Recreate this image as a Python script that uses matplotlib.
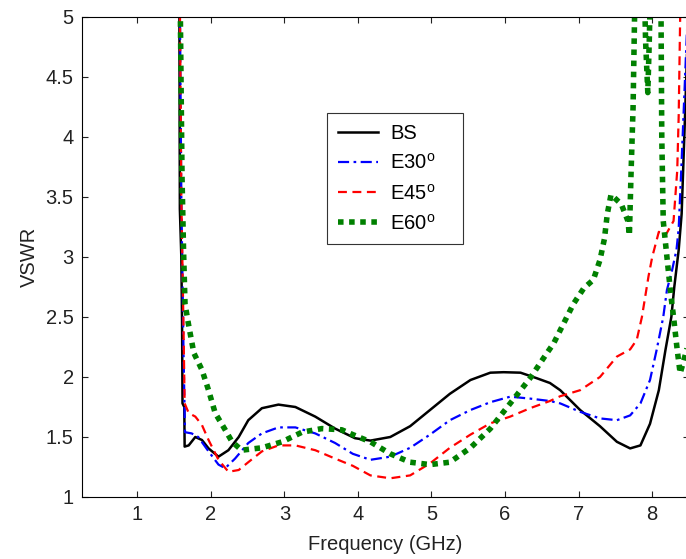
import matplotlib
matplotlib.use("Agg")
import matplotlib.pyplot as plt

plt.rcParams['font.family'] = ['Liberation Sans', 'DejaVu Sans']
plt.rcParams['mathtext.fontset'] = 'custom'
plt.rcParams['mathtext.rm'] = 'Liberation Sans'

# frequency (GHz) / VSWR
bs_f = [1.57, 1.58, 1.60, 1.61, 1.616, 1.64, 1.645, 1.70, 1.79, 1.88, 1.97, 2.105,
        2.24, 2.38, 2.51, 2.695, 2.92, 3.15, 3.42, 3.69, 3.96, 4.17, 4.44, 4.71,
        4.98, 5.25, 5.53, 5.80, 5.98, 6.21, 6.43, 6.61, 6.75, 7.02, 7.29, 7.52,
        7.70, 7.84, 7.97, 8.09, 8.18, 8.26, 8.30, 8.36, 8.40, 8.45, 8.50]
bs_v = [6.0, 3.4, 3.0, 2.45, 1.78, 1.75, 1.42, 1.43, 1.50, 1.475, 1.405, 1.336,
        1.39, 1.50, 1.64, 1.74, 1.77, 1.75, 1.67, 1.57, 1.49, 1.47, 1.50, 1.59,
        1.725, 1.86, 1.975, 2.036, 2.04, 2.036, 1.99, 1.95, 1.89, 1.725, 1.59, 1.46,
        1.405, 1.43, 1.61, 1.89, 2.225, 2.50, 2.75, 3.06, 3.36, 4.25, 5.2]

e30_f = [1.57, 1.60, 1.63, 1.65, 1.74, 1.83, 1.97, 2.105, 2.196, 2.33, 2.51, 2.695,
         2.92, 3.15, 3.42, 3.69, 3.93, 4.17, 4.44, 4.71, 4.98, 5.25, 5.53, 5.80,
         6.07, 6.34, 6.61, 6.75, 7.02, 7.29, 7.52, 7.70, 7.84, 7.97, 8.06, 8.15,
         8.20, 8.27, 8.33, 8.36, 8.40, 8.45, 8.50]
e30_v = [6.0, 3.5, 2.2, 1.54, 1.53, 1.50, 1.38, 1.27, 1.24, 1.32, 1.45, 1.53,
         1.58, 1.58, 1.53, 1.45, 1.36, 1.31, 1.336, 1.41, 1.52, 1.64, 1.725, 1.79,
         1.836, 1.82, 1.80, 1.78, 1.71, 1.655, 1.64, 1.68, 1.78, 1.975, 2.225, 2.50,
         2.725, 2.89, 3.06, 3.24, 3.80, 4.55, 5.3]

e45_f = [1.57, 1.60, 1.63, 1.645, 1.70, 1.79, 1.88, 1.97, 2.105, 2.24, 2.38, 2.51,
         2.695, 2.92, 3.15, 3.42, 3.69, 3.93, 4.17, 4.44, 4.71, 4.98, 5.25, 5.53,
         5.80, 6.07, 6.34, 6.61, 6.75, 7.02, 7.29, 7.52, 7.70, 7.79, 7.86, 7.905,
         7.95, 8.0, 8.09, 8.18, 8.29, 8.34, 8.36, 8.38, 8.40]
e45_v = [6.0, 3.5, 2.4, 1.78, 1.70, 1.67, 1.60, 1.475, 1.31, 1.21, 1.225, 1.29,
         1.38, 1.43, 1.43, 1.39, 1.32, 1.26, 1.18, 1.156, 1.18, 1.28, 1.41, 1.52,
         1.614, 1.67, 1.74, 1.80, 1.84, 1.89, 2.0, 2.17, 2.23, 2.31, 2.50, 2.67,
         2.84, 3.0, 3.21, 3.18, 3.30, 3.72, 4.18, 5.0, 5.5]

e60_f = [1.57, 1.61, 1.63, 1.65, 1.70, 1.77, 1.88, 1.97, 2.06, 2.196, 2.29, 2.42,
         2.695, 2.97, 3.24, 3.51, 3.78, 3.93, 4.17, 4.44, 4.71, 4.98, 5.25, 5.53,
         5.80, 6.07, 6.34, 6.57, 6.66, 6.84, 6.93, 7.07, 7.20, 7.29, 7.35, 7.39,
         7.44, 7.58, 7.67, 7.69, 7.71, 7.74, 7.76, 7.80, 7.88, 7.91, 7.94, 7.96,
         7.99, 8.08, 8.12, 8.13, 8.15, 8.20, 8.25, 8.29, 8.34, 8.38, 8.43, 8.50]
e60_v = [6.0, 3.65, 3.06, 2.61, 2.43, 2.20, 2.06, 1.89, 1.70, 1.56, 1.46, 1.39,
         1.41, 1.46, 1.54, 1.57, 1.56, 1.52, 1.46, 1.36, 1.29, 1.27, 1.29, 1.41,
         1.57, 1.78, 1.99, 2.20, 2.28, 2.50, 2.61, 2.74, 2.81, 2.975, 3.15, 3.36,
         3.52, 3.44, 3.30, 3.18, 3.65, 4.25, 5.0, 5.6, 5.6, 4.8, 4.37, 4.8,
         5.6, 5.6, 5.0, 4.0, 3.3, 3.0, 2.7, 2.50, 2.225, 2.03, 2.14, 2.3]

labels = ['BS', r'E30$^\mathrm{o}$', r'E45$^\mathrm{o}$', r'E60$^\mathrm{o}$']

fig = plt.figure(figsize=(6.86, 5.59), dpi=100)
ax = fig.add_axes([82 / 686, 62 / 559, 607 / 686, 480 / 559])

ax.plot(bs_f, bs_v, color='black', lw=1.8, label=labels[0])
ax.plot(e30_f, e30_v, color='blue', lw=1.6, ls=(0, (5, 2, 1.2, 2)), label=labels[1])
ax.plot(e45_f, e45_v, color='red', lw=1.6, ls=(0, (4, 2.5)), label=labels[2])
ax.plot(e60_f, e60_v, color='green', lw=4, ls=(0, (1, 1)), dash_capstyle='butt',
        label=labels[3])

ax.set_xlim(0.25, 8.5)
ax.set_ylim(1, 5)
ax.set_xticks(range(1, 9))
ax.set_yticks([1, 1.5, 2, 2.5, 3, 3.5, 4, 4.5, 5])
ax.set_yticklabels(['1', '1.5', '2', '2.5', '3', '3.5', '4', '4.5', '5'])
ax.tick_params(direction='in', top=True, right=True, length=4, width=0.8,
               labelsize=14.5, pad=6, colors='#222222')
for s in ax.spines.values():
    s.set_linewidth(0.8)

ax.set_xlabel('Frequency (GHz)', fontsize=14.5, color='#222222', labelpad=8)
ax.set_ylabel('VSWR', fontsize=14.5, color='#222222', labelpad=5)

leg = ax.legend(loc='upper left', bbox_to_anchor=(0.4036, 0.5, 0.224, 0.3),
                mode='expand', borderaxespad=0, fontsize=14.5, fancybox=False,
                framealpha=1, edgecolor='#333333', handlelength=2.0,
                handletextpad=0.6, labelspacing=0.5, borderpad=0.55)
leg.get_frame().set_linewidth(0.8)

fig.savefig('out.png', dpi=100)
